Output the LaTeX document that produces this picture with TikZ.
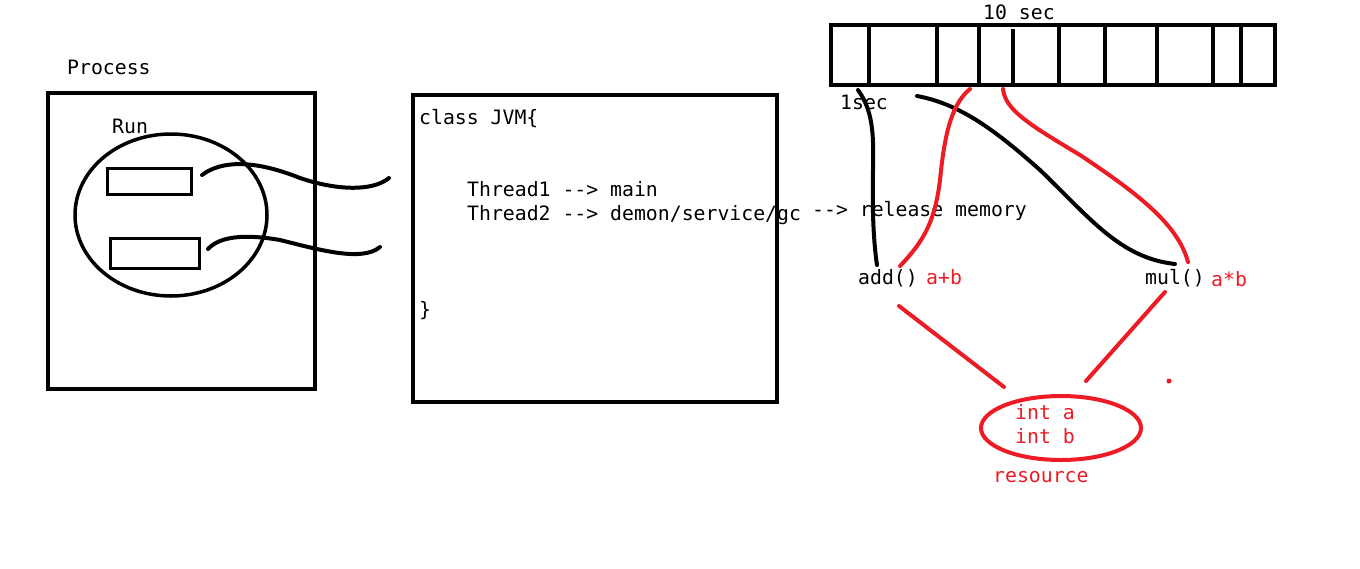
\documentclass[tikz,border=0pt]{standalone}
\usepackage{fontspec}
\usetikzlibrary{shapes.geometric}
\newfontfamily\codefont{DejaVu Sans Mono}
\definecolor{pred}{RGB}{237,28,36}
\begin{document}
\begin{tikzpicture}[x=1pt,y=-1pt,
  txt/.style={inner sep=0pt, anchor=base west, font=\codefont\fontsize{19.8}{24}\selectfont},
  rtxt/.style={txt, text=pred},
  ink/.style={line width=4pt, line cap=round, line join=round},
  rink/.style={ink, draw=pred},
  boxnode/.style={draw, line width=4pt, inner sep=0pt, minimum width=#1},
  boxnode/.default=10pt]
\useasboundingbox[fill=white] (0,0) rectangle (1360,568);

% ---------- Process ----------
\node[txt] (process) at (67,74) {Process};
\node[boxnode=267pt, minimum height=296pt] (proc) at (181.5,241) {};
\node[txt] (run) at (112,133) {Run};
\node[draw, ellipse, line width=3.5pt, minimum width=192pt, minimum height=162pt, inner sep=0pt] (runell) at (171,215) {};
\node[draw, line width=3.5pt, inner sep=0pt, minimum width=84pt, minimum height=26pt] (t1) at (149.5,181.5) {};
\node[draw, line width=3.5pt, inner sep=0pt, minimum width=89pt, minimum height=30pt] (t2) at (155,253.5) {};

\coordinate (c1s) at (202,175);
\coordinate (c1e) at (389,178);
\coordinate (c2s) at (208,249);
\coordinate (c2e) at (380,247);
\draw[ink] (c1s) .. controls (222,160) and (255,160) .. (300,178)
  .. controls (335,190) and (372,192) .. (c1e);
\draw[ink] (c2s) .. controls (220,236) and (245,234) .. (280,240)
  .. controls (320,250) and (362,262) .. (c2e);

% ---------- JVM ----------
\node[boxnode=364pt, minimum height=307pt] (jvm) at (595,248.5) {};
\node[txt] (cls) at (419,124) {class JVM\{};
\node[txt] (th1) at (467,196) {Thread1 -{}-> main};
\node[txt] (th2) at (467,220) {Thread2 -{}-> demon/service/gc};
\node[txt] (rel) at (812,216) {-{}-> release memory};
\node[txt] (close) at (419,316) {\}};

% ---------- timeline ----------
\node[txt] (tensec) at (983,19) {10 sec};
\node[boxnode=444pt, minimum height=60pt] (tl) at (1053,55) {};
\foreach \x in {869,937,979,1059,1105,1157,1213,1241}
  \draw[line width=3.5pt] (\x,25) -- (\x,85);
\draw[line width=3.5pt] (1013,29) -- (1013,85);
\node[txt] (onesec) at (840,109) {1sec};

% ---------- methods ----------
\node[txt] (add) at (858,284) {add()};
\node[rtxt] (apb) at (926,284) {a+b};
\node[txt] (mul) at (1145,284) {mul()};
\node[rtxt] (atb) at (1211,286) {a*b};

\coordinate (k1s) at (858,90);
\coordinate (k1e) at (877,265);
\draw[ink] (k1s) .. controls (872,110) and (874,130) .. (873,170)
  .. controls (872,215) and (874,245) .. (k1e);
\coordinate (k2s) at (917,96);
\coordinate (k2e) at (1175,264);
\draw[ink] (k2s) .. controls (960,104) and (995,130) .. (1040,170)
  .. controls (1090,218) and (1120,258) .. (k2e);

\coordinate (r1s) at (970,89);
\coordinate (r1e) at (900,266);
\draw[rink] (r1s) .. controls (950,105) and (944,140) .. (940,180)
  .. controls (935,220) and (925,240) .. (r1e);
\coordinate (r2s) at (1003,89);
\coordinate (r2e) at (1188,262);
\draw[rink] (r2s) .. controls (1005,110) and (1030,125) .. (1080,155)
  .. controls (1140,195) and (1178,225) .. (r2e);

% ---------- resource ----------
\node[draw=pred, ellipse, line width=4pt, inner sep=0pt, minimum width=160pt, minimum height=64pt] (res) at (1061,428) {};
\node[rtxt] (inta) at (1015,419) {int a};
\node[rtxt] (intb) at (1015,443) {int b};
\node[rtxt] (resl) at (993,482) {resource};

\coordinate (a1) at (899,306);
\coordinate (a2) at (1004,387);
\coordinate (m1) at (1165,292);
\coordinate (m2) at (1086,381);
\draw[rink] (a1) -- (a2);
\draw[rink] (m1) -- (m2);
\fill[pred] (1169,381) circle (2.5pt);
\end{tikzpicture}
\end{document}
